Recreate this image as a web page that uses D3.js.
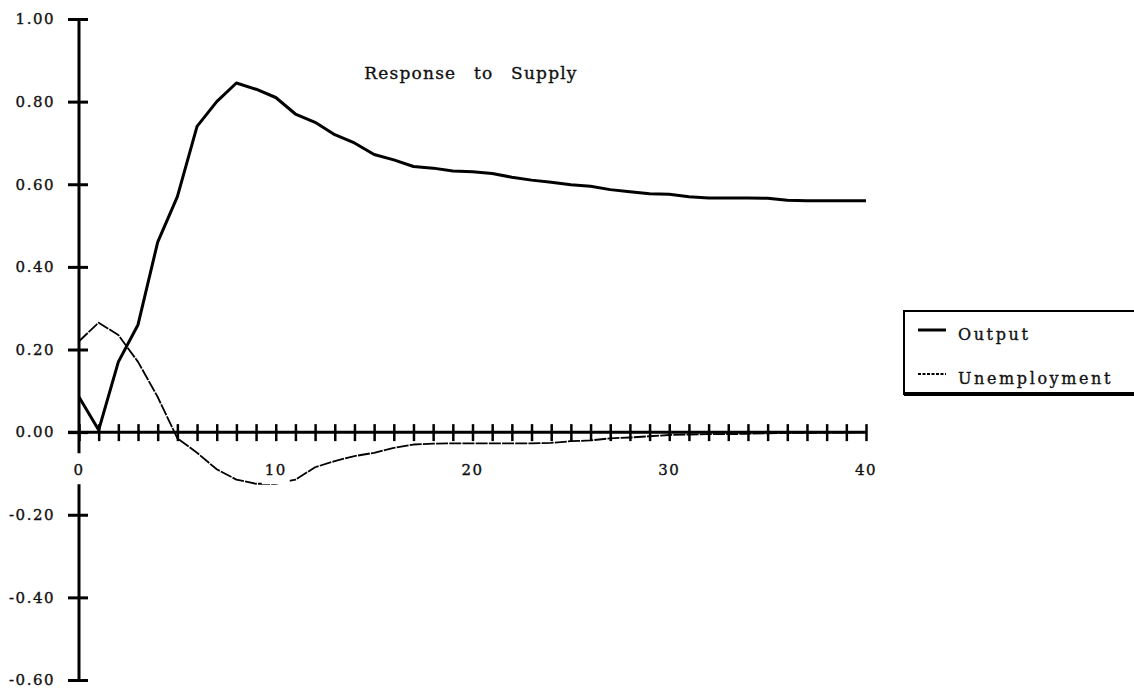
<!DOCTYPE html>
<html>
<head>
<meta charset="utf-8">
<script src="https://cdn.jsdelivr.net/npm/d3@7"></script>
<style>
    body { margin: 0; background: #fff; }
    text { font-family: "DejaVu Serif", "Liberation Serif", serif; fill: #111; stroke: #111; stroke-width: 0.35px; }
</style>
</head>
<body>
<div id="chart"></div>
<script>
///////////////////////////
// DATA
///////////////////////////

const periods = d3.range(0, 41);

const output = [
    0.085, 0.005, 0.17, 0.26, 0.46, 0.57, 0.74, 0.80, 0.845, 0.83,
    0.81, 0.77, 0.75, 0.72, 0.70, 0.672, 0.659, 0.643, 0.639, 0.632,
    0.630, 0.626, 0.617, 0.610, 0.605, 0.599, 0.595, 0.587, 0.582, 0.577,
    0.576, 0.570, 0.567, 0.567, 0.567, 0.566, 0.561, 0.560, 0.560, 0.560,
    0.560
];

const unemployment = [
    0.22, 0.265, 0.235, 0.17, 0.085, -0.015, -0.05, -0.09, -0.115, -0.125,
    -0.125, -0.115, -0.085, -0.07, -0.058, -0.05, -0.038, -0.03, -0.028, -0.027,
    -0.027, -0.027, -0.027, -0.027, -0.026, -0.022, -0.02, -0.015, -0.013, -0.01,
    -0.007, -0.006, -0.005, -0.005, -0.004, -0.003, -0.002, -0.002, -0.001, -0.001,
    0
];

const yTicks = [-0.6, -0.4, -0.2, 0, 0.2, 0.4, 0.6, 0.8, 1.0];
const yTickLabels = ['-0.60', '-0.40', '-0.20', '0.00', '0.20', '0.40', '0.60', '0.80', '1.00'];
const xLabels = [0, 10, 20, 30, 40];

const series = [
    { name: 'Output', values: output, width: 3, dash: null, key: null },
    { name: 'Unemployment', values: unemployment, width: 1.8, dash: '12,1.2', key: '3,1.5' }
];

///////////////////////////
// CHART
///////////////////////////

const width = 1134;
const height = 695;

let svg = d3.select('#chart')
    .append('svg')
    .attr('width', width)
    .attr('height', height);

const x = d3.scaleLinear().domain([0, 40]).range([79, 866]);
const y = d3.scaleLinear().domain([-0.6, 1.0]).range([680, 19]);

const line = d3.line()
    .x((d, i) => x(periods[i]))
    .y((d) => y(d));

// curves
svg.selectAll('.series')
    .data(series)
    .enter().append('path')
    .attr('class', 'series')
    .attr('d', (d) => line(d.values))
    .style('fill', 'none')
    .style('stroke', '#000')
    .style('stroke-width', (d) => d.width)
    .style('stroke-dasharray', (d) => d.dash)
    .style('stroke-linejoin', 'round');

// y axis, ticks cross the line
let yAxis = svg.append('g')
    .attr('transform', `translate(${x(0)},0)`)
    .call(d3.axisLeft(y)
        .tickValues(yTicks)
        .tickSize(10)
        .tickPadding(14)
        .tickFormat((d, i) => yTickLabels[i]));

yAxis.select('.domain').remove();
yAxis.selectAll('.tick line')
    .attr('x1', -11).attr('x2', 9)
    .style('stroke', '#000')
    .style('stroke-width', 3);
yAxis.selectAll('.tick text')
    .style('font-size', '15px')
    .style('letter-spacing', '1.5px')
    .style('font-family', '"DejaVu Serif", serif');

// y axis line is broken where the "0" label sits
[[y(1.0), y(0) + 21], [y(0) + 52, y(-0.6)]].forEach((seg) => {
    yAxis.append('line')
        .attr('x1', 0).attr('x2', 0)
        .attr('y1', seg[0]).attr('y2', seg[1])
        .style('stroke', '#000')
        .style('stroke-width', 3);
});

// x axis, a tick at every period
let xAxis = svg.append('g')
    .attr('transform', `translate(0,${y(0)})`)
    .call(d3.axisBottom(x)
        .tickValues(periods)
        .tickSize(8)
        .tickFormat(''));

xAxis.select('.domain').remove();
xAxis.append('line')
    .attr('x1', x(0) - 11).attr('x2', x(40))
    .style('stroke', '#000')
    .style('stroke-width', 3);
xAxis.selectAll('.tick line')
    .attr('y1', -8).attr('y2', 9)
    .style('stroke', '#000')
    .style('stroke-width', 2.5);

// x labels sit on a white patch that cuts the curves
let xLab = svg.selectAll('.xlab')
    .data(xLabels)
    .enter().append('g')
    .attr('class', 'xlab')
    .attr('transform', (d) => `translate(${x(d)},${y(0) + 38})`);

xLab.append('rect')
    .attr('x', (d) => d < 10 ? -7 : -14)
    .attr('y', -12)
    .attr('width', (d) => d < 10 ? 14 : 28)
    .attr('height', 26)
    .style('fill', '#fff');

xLab.append('text')
    .attr('text-anchor', 'middle')
    .attr('dy', '0.35em')
    .style('font-size', '15px')
    .style('letter-spacing', '1.5px')
    .text((d) => d);

// title
svg.append('text')
    .attr('x', 471)
    .attr('y', 73)
    .attr('text-anchor', 'middle')
    .attr('dy', '0.35em')
    .style('font-size', '17px')
    .style('letter-spacing', '1.2px')
    .style('word-spacing', '11px')
    .text('Response to Supply');

// legend
let legend = svg.append('g');

legend.append('rect')
    .attr('x', 904)
    .attr('y', 311)
    .attr('width', 260)
    .attr('height', 83)
    .style('fill', '#fff')
    .style('stroke', '#000')
    .style('stroke-width', 2);

legend.append('line')
    .attr('x1', 904).attr('x2', 1134)
    .attr('y1', 394).attr('y2', 394)
    .style('stroke', '#000')
    .style('stroke-width', 4);

let item = legend.selectAll('.item')
    .data(series)
    .enter().append('g')
    .attr('class', 'item')
    .attr('transform', (d, i) => `translate(918,${334 + i * 44})`);

item.append('line')
    .attr('x1', 0).attr('x2', 28)
    .attr('y1', -4).attr('y2', -4)
    .style('stroke', '#000')
    .style('stroke-width', (d) => d.width)
    .style('stroke-dasharray', (d) => d.key);

item.append('text')
    .attr('x', 40)
    .attr('dy', '0.35em')
    .style('font-size', '16px')
    .style('letter-spacing', '2.6px')
    .text((d) => d.name);
</script>
</body>
</html>
